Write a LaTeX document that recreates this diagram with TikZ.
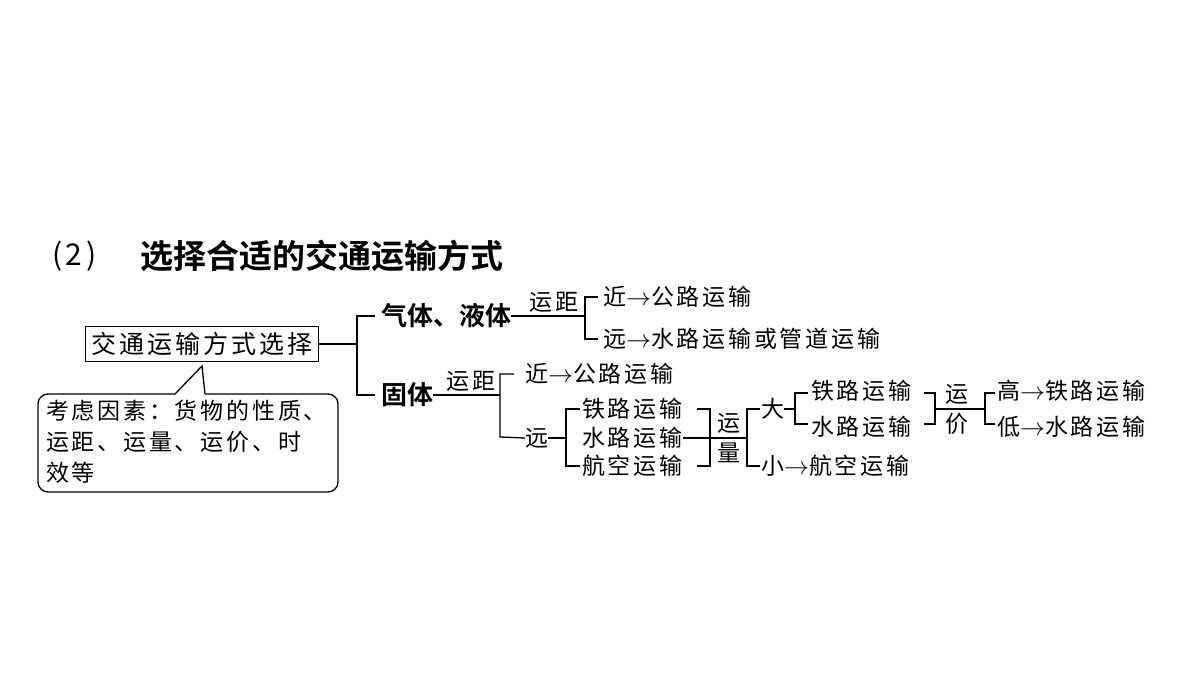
\documentclass[tikz,border=0pt]{standalone}
\usepackage{fontspec}
\setmainfont{Noto Sans CJK SC}[BoldFont={Noto Sans CJK SC Bold}]
\newfontfamily\spaced{Noto Sans CJK SC}[LetterSpace=12]
\usetikzlibrary{positioning}
\tikzset{
  small/.style={inner sep=0pt, font=\spaced\fontsize{23}{26}\selectfont},
  big/.style={inner sep=0pt, font=\bfseries\fontsize{26}{29}\selectfont},
  ln/.style={line width=1.3pt}
}
\newcommand{\ar}{$\rightarrow$}
\begin{document}
\begin{tikzpicture}[x=1pt,y=-1pt]
        \useasboundingbox (0,0) rectangle (1200,675);

        \node[inner sep=0pt, anchor=west, font=\spaced\fontsize{30}{32}\selectfont] (num) at (52,256) {(2)};
        \node[big, anchor=west, font=\bfseries\fontsize{33}{35}\selectfont] (title) at (140,256) {选择合适的交通运输方式};

        \node[draw, ln, inner sep=6pt, font=\spaced\fontsize{25}{28}\selectfont] (main) at (202,344) {交通运输方式选择};
        \draw[ln, rounded corners=10pt] (175,394) -- (38,394) -- (38,492) -- (338,492) -- (338,394) -- (205,394);
        \draw[ln] (175,394) -- (202,366) -- (205,394);
        \node[small, anchor=north west, align=left, font=\spaced\fontsize{23}{31}\selectfont] (note) at (46,400)
            {考虑因素：货物的性质、\\运距、运量、运价、时\\效等};

        % first level
        \node[big, anchor=west] (gas) at (381,316) {气体、液体};
        \node[big, anchor=west] (solid) at (381,395) {固体};
        \draw[ln] (main.east) -- (357,344);
        \draw[ln] (375,316) -- (357,316) -- (357,395) -- (375,395);

        % gas
        \node[small] (gd) at (554,302) {运距};
        \node[small, anchor=west] (gnear) at (603,297) {近\ar 公路运输};
        \node[small, anchor=west] (gfar) at (603,339) {远\ar 水路运输或管道运输};
        \draw[ln] (gas.east) -- (585,316);
        \draw[ln] (598,297) -- (585,297) -- (585,339) -- (598,339);

        % solid
        \node[small] (sd) at (471,381) {运距};
        \node[small, anchor=west] (snear) at (525,374) {近\ar 公路运输};
        \node[small, anchor=west] (sfar) at (525,438) {远};
        \draw[ln] (solid.east) -- (500,395);
        \draw[ln] (514,374) -- (500,374) -- (500,437) -- (sfar.west);

        \node[small, anchor=west] (rail) at (582,409) {铁路运输};
        \node[small, anchor=west] (water) at (582,438) {水路运输};
        \node[small, anchor=west] (air) at (582,466) {航空运输};
        \draw[ln] (sfar.east) -- (566,438);
        \draw[ln] (580,409) -- (566,409) -- (566,466) -- (580,466);
        \draw[ln] (697,409) -- (710,409) -- (710,466) -- (697,466);
        \draw[ln] (water.east) -- (747,438);
        \node[small] (vol1) at (729,423) {运};
        \node[small] (vol2) at (729,453) {量};
        \draw[ln] (760,409) -- (747,409) -- (747,466) -- (760,466);

        \node[small, anchor=west] (bigv) at (761,409) {大};
        \node[small, anchor=west] (smallv) at (761,466) {小\ar 航空运输};
        \draw[ln] (bigv.east) -- (795,409);
        \node[small, anchor=west] (rail2) at (811,391) {铁路运输};
        \node[small, anchor=west] (water2) at (811,427) {水路运输};
        \draw[ln] (808,393) -- (795,393) -- (795,424) -- (808,424);
        \draw[ln] (924,393) -- (935,393) -- (935,424) -- (924,424);
        \draw[ln] (935,409) -- (985,409);
        \node[small] (pr1) at (957,394) {运};
        \node[small] (pr2) at (957,424) {价};
        \draw[ln] (995,393) -- (985,393) -- (985,424) -- (995,424);
        \node[small, anchor=west] (high) at (997,391) {高\ar 铁路运输};
        \node[small, anchor=west] (low) at (997,427) {低\ar 水路运输};
\end{tikzpicture}
\end{document}
